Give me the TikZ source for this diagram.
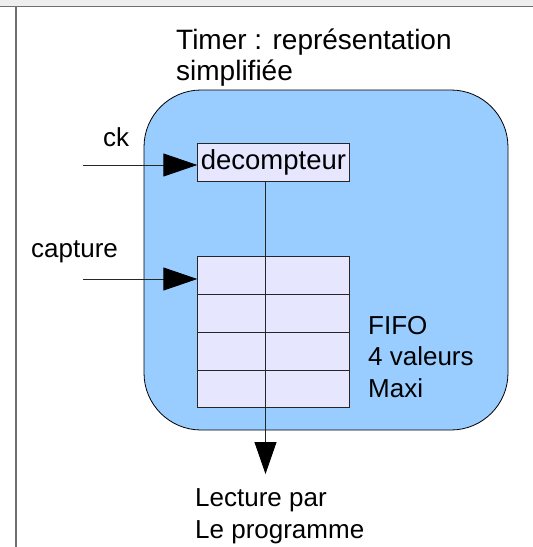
\documentclass[tikz,border=0pt]{standalone}
\usepackage{fontspec}
\setmainfont{Liberation Sans}
\usetikzlibrary{arrows.meta}
\definecolor{timerblue}{HTML}{99CCFF}
\definecolor{cellfill}{HTML}{E6E6FF}
\definecolor{framegray}{HTML}{707070}
\definecolor{stripgray}{HTML}{EEEEEE}
\begin{document}
\begin{tikzpicture}[x=1pt,y=-1pt,
  lbl/.style={inner sep=0pt, anchor=base west, align=left, font=\fontsize{26}{31.5}\selectfont},
  bigtxt/.style={inner sep=0pt, anchor=base west, align=left, font=\fontsize{28}{31}\selectfont},
  cellbox/.style={draw=black!85, fill=cellfill, line width=0.9pt, inner sep=0pt},
  wire/.style={draw=black!85, line width=0.9pt},
  bigarrow/.style={wire, -{Triangle[length=34pt,width=23pt,color=black]}},
]
\useasboundingbox (0,0) rectangle (533,547);
% window frame
\fill[stripgray] (0,0) rectangle (533,6);
\draw[framegray, line width=1.2pt] (0,6.5) -- (533,6.5);
\draw[framegray, line width=2pt] (15.5,6.5) -- (15.5,547);

% title
\node[bigtxt] (title) at (176,49) {Timer : représentation};
\node[bigtxt] (title2) at (176,80) {simplifiée};

% timer body
\draw[black, fill=timerblue, line width=0.8pt, rounded corners=57pt]
  (144,90) rectangle (508,430);

% down counter
\node[cellbox, minimum width=151.4pt, minimum height=37.7pt, anchor=north west]
  (dec) at (197.3,143.3) {\fontsize{27.5}{30}\selectfont decompteur};

% FIFO, four rows
\node[cellbox, minimum width=151.4pt, minimum height=151pt, anchor=north west]
  (fifo) at (197.3,256) {};
\foreach \yy in {294,332,370}
  \draw[wire] (197.3,\yy) -- (348.7,\yy);

% inputs
\coordinate (ckin) at (83,165);
\coordinate (capin) at (83,279);
\draw[bigarrow] (ckin) -- (ckin -| dec.west);
\draw[bigarrow] (capin) -- (capin -| fifo.west);

% read path through the FIFO
\coordinate (col) at (265.5,0);
\coordinate (out) at (265.5,474);
\draw[wire, -{Triangle[length=32pt,width=22pt,color=black]}] (col |- dec.south) -- (out);

% labels (multi-line nodes sit on the baseline of their last line)
\node[lbl] (ck) at (103,146) {ck};
\node[lbl] (capture) at (31,257) {capture};
\node[lbl] (fifotxt) at (368,397) {FIFO\\4 valeurs\\Maxi};
\node[lbl] (lecture) at (195,538) {Lecture par\\Le programme};
\end{tikzpicture}
\end{document}
